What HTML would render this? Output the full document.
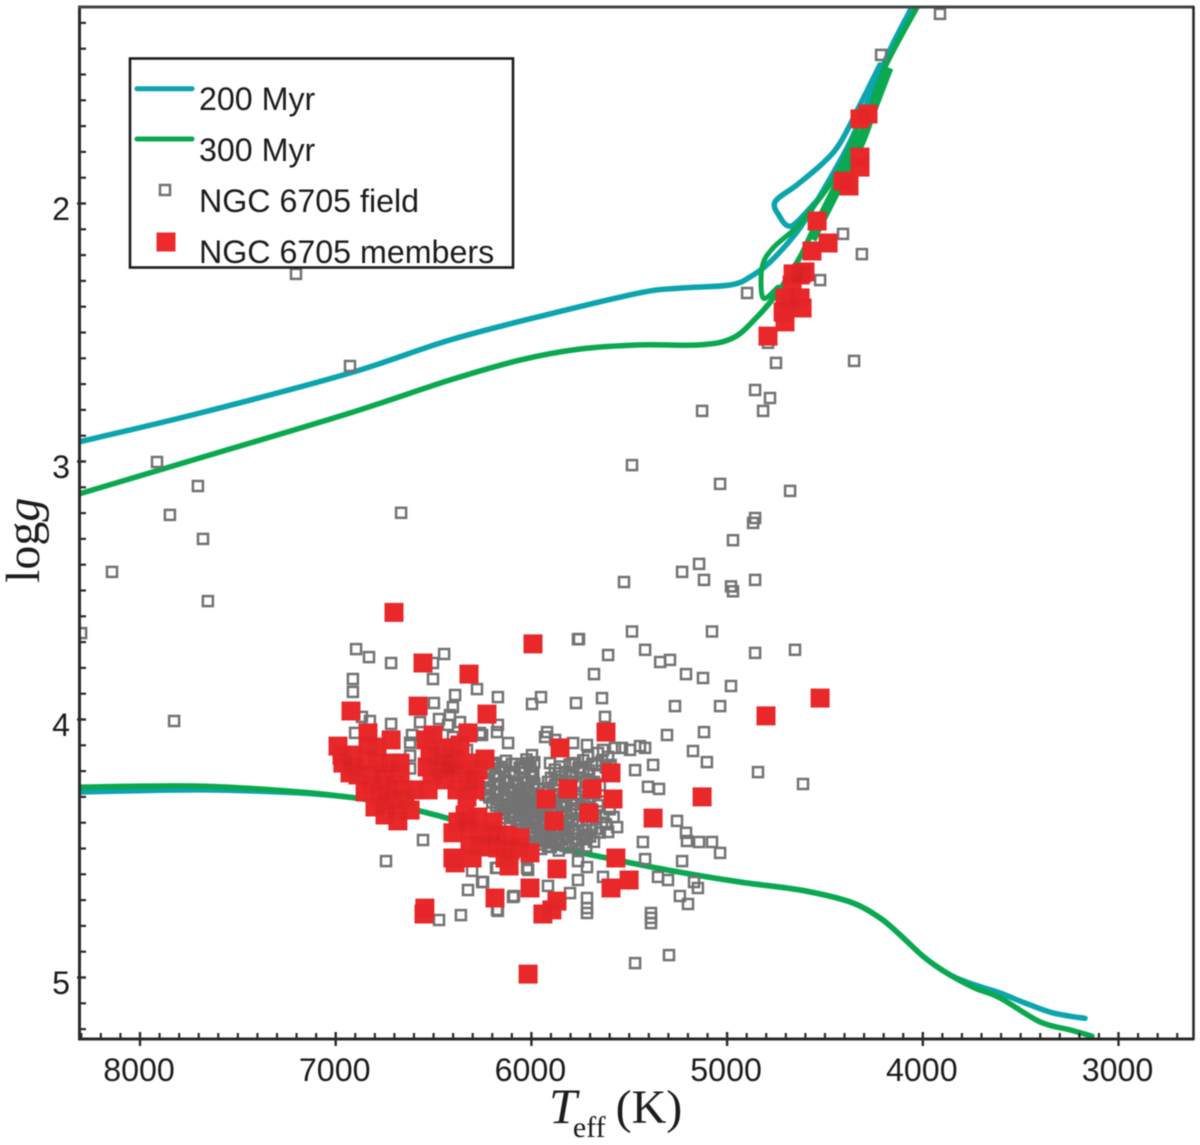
<!DOCTYPE html>
<html lang="en">
<head>
<meta charset="utf-8">
<title>NGC 6705 HR diagram</title>
<style>
html,body{margin:0;padding:0;background:#fff}
svg{display:block;filter:blur(0.4px)}
text{fill:#1c1c1c}
.sans{font-family:"Liberation Sans",sans-serif;font-size:32.2px}
.serif{font-family:"Liberation Serif",serif}
</style>
</head>
<body>
<svg id="chart" xmlns="http://www.w3.org/2000/svg" width="1200" height="1145" viewBox="0 0 1200 1145">
  <defs><clipPath id="plot-clip"><rect x="79" y="7" width="1114" height="1032"/></clipPath></defs>
  <rect x="0" y="0" width="1200" height="1145" fill="#fff"/>
  <g id="series-lines" clip-path="url(#plot-clip)" fill="none" stroke-linecap="round" stroke-linejoin="round"></g>
  <g id="field-marks" clip-path="url(#plot-clip)"></g>
  <g id="member-marks" clip-path="url(#plot-clip)"></g>
  <g id="axes"></g>
  <text class="serif" x="549" y="1123" font-size="50"><tspan font-style="italic">T</tspan><tspan font-size="30" dy="14" dx="-4">eff</tspan><tspan dy="-14" dx="10" font-size="48">(K)</tspan></text>
  <text class="serif" transform="translate(39,583) rotate(-90)" font-size="48">log<tspan font-style="italic">g</tspan></text>
  <g>
    <rect x="130" y="58.5" width="383" height="209" fill="#fff" stroke="#1c1c1c" stroke-width="2.6"/>
    <line x1="137" y1="88.7" x2="192" y2="88.7" stroke="#0ca4ad" stroke-width="5" stroke-linecap="round"/>
    <text class="sans" x="199" y="110">200 Myr</text>
    <line x1="137" y1="139" x2="192" y2="139" stroke="#0aa84f" stroke-width="5" stroke-linecap="round"/>
    <text class="sans" x="199" y="161">300 Myr</text>
    <rect x="160" y="185" width="10" height="10" fill="none" stroke="#737373" stroke-width="2.5"/>
    <text class="sans" x="199" y="212">NGC 6705 field</text>
    <rect x="156.5" y="232.5" width="19" height="19" fill="#ee2a2c"/>
    <text class="sans" x="199" y="263">NGC 6705 members</text>
  </g>
</svg>
<script>
var xTickLabels = [8000, 7000, 6000, 5000, 4000, 3000];
var yTickLabels = [2, 3, 4, 5];

var mainSequence = [[6901,4.304],[6774,4.320],[6569,4.355],[6431,4.382],[6160,4.444],[5889,4.494],[5614,4.537],[5307,4.583],[4934,4.630],[4627,4.661],[4372,4.707],[4219,4.769],[4116,4.835],[3989,4.924],[3861,4.990]];

var teal200Start = [[8312,4.281],[7693,4.273],[7182,4.285]];
var teal200End = [[3733,5.029],[3605,5.060],[3478,5.099],[3350,5.134],[3248,5.150],[3171,5.158]];
var teal200Upper = [[8312,2.924],[7693,2.812],[6927,2.657],[6416,2.529],[5905,2.428],[5445,2.346],[5241,2.328],[4985,2.316],[4883,2.285],[4781,2.227],[4643,2.110],[4551,2.002],[4464,1.890],[4372,1.762],[4270,1.587],[4168,1.405],[4055,1.238]];
var teal200Loop = [[4525,1.975],[4643,2.072],[4689,2.087],[4730,2.052],[4755,1.994],[4643,1.928],[4510,1.843],[4423,1.766],[4321,1.618],[4219,1.463]];

var green300Start = [[8312,4.262],[7693,4.258],[7182,4.281]];
var green300End = [[3733,5.041],[3605,5.079],[3401,5.172],[3248,5.203],[3136,5.227]];
var green300Upper = [[8312,3.126],[7693,2.986],[6927,2.812],[6416,2.684],[6058,2.607],[5751,2.564],[5445,2.548],[5138,2.548],[4970,2.521],[4847,2.440],[4740,2.343],[4627,2.207],[4561,2.103],[4459,1.948],[4372,1.820],[4285,1.669],[4193,1.471],[4029,1.238]];
var green300Loop = [[4740,2.324],[4816,2.366],[4821,2.246],[4765,2.172],[4643,2.091],[4561,2.014],[4459,1.909],[4387,1.804],[4305,1.649]];
var green300Branch = [[4561,2.141],[4459,1.986],[4321,1.781],[4244,1.626],[4168,1.475]];

var fieldStars = [
[3912,1.265],[4213,1.424],[4408,2.118],[4311,2.196],[4525,2.297],[4898,2.347],[7203,2.273],[6927,2.630],[7913,3.002],[7704,3.095],[7847,3.207],[7678,3.300],[8143,3.428],[7653,3.541],[8301,3.665],[7826,4.006],[6666,3.199],
[4791,2.540],[4750,2.618],[4857,2.723],[4781,2.754],[4816,2.804],[5128,2.804],[4351,2.610],[5486,3.014],[5036,3.087],[4678,3.114],[4857,3.219],[4867,3.238],[4970,3.305],[5143,3.397],[5230,3.428],[5118,3.459],[4857,3.459],[5527,3.467],[4980,3.484],[4970,3.503],[5486,3.659],[5077,3.659],[5762,3.689],[5419,3.730],[5608,3.750],[4857,3.742],[4653,3.730],[5342,3.777],[5292,3.769],[5210,3.824],[5123,3.839],[4980,3.870],[4612,4.250],[4842,4.204],
[6171,3.913],[5997,3.940],[5951,3.913],[5772,3.936],[5639,3.917],[5266,3.948],[5036,3.948],[5624,3.990],[5307,4.060],[5118,4.049],[5174,4.122],[5103,4.165],[5470,4.196],[5378,4.176],[5445,4.103],[5404,4.261],[5348,4.269],[5256,4.393],[5210,4.439],[5205,4.471],[5143,4.475],[5077,4.475],[5036,4.517],[5430,4.475],[5419,4.541],[5230,4.549],[5353,4.610],[5302,4.622],[5169,4.630],[5149,4.653],[5241,4.684],[5200,4.715],[5389,4.750],[5389,4.769],[5389,4.789],[5470,4.944],[5297,4.913],[5634,4.610],[5762,4.622],[5762,4.549],[5716,4.572],[5803,4.673],[5716,4.692],[5716,4.731],[5716,4.750],[5915,4.645],[6094,4.688],[6176,4.738],[6247,4.630],[6176,4.575],[6017,4.583],
[6896,3.727],[6830,3.758],[6717,3.781],[6446,3.746],[6503,3.781],[6503,3.843],[6912,3.843],[6912,3.893],[6390,3.905],[6278,3.882],[6498,3.936],[6401,3.952],[5757,3.688],[5680,3.824],[6825,4.006],[6717,4.017],[6569,4.010],[6472,3.998],[6416,3.983],[6365,4.010],[6901,4.052],[6610,4.060],[6426,4.021],[6171,4.021],[6176,4.049],[6119,4.091],[6252,4.060],[6554,4.467],[6743,4.549],[6472,4.777],[6360,4.758],[6324,4.661],[6252,4.630],[6303,4.587],[6171,4.742],[6089,4.684],[6181,4.575],[6022,4.575],
[5920,4.049],[5930,4.068],[5879,4.079],[5787,4.091],[5716,4.099],[5660,4.130],[5537,4.110],[5711,4.145],[5777,4.169],[5997,4.138],[6017,4.169],[5905,4.169],[5634,4.118],[5608,4.145],[5573,4.110],[5496,4.118],[5419,4.110],[5562,4.417],[5608,4.436],[5634,4.378],[5726,4.455],[6263,4.052],[6620,4.090],[6620,4.140],[6620,4.190],[6866,3.990],[6401,4.068],[6329,4.118],
[6190,4.168],[6130,4.160],[6085,4.172],[6025,4.155],[5985,4.166],[5790,4.170],[5735,4.158],[5690,4.172],[5640,4.160],[5595,4.176],
[6215,4.198],[6165,4.190],[6110,4.204],[6060,4.186],[6005,4.200],[5880,4.194],[5825,4.204],[5760,4.188],[5705,4.198],[5610,4.210],
[6240,4.228],[6180,4.220],[6140,4.234],[6090,4.218],[6045,4.230],[6000,4.222],[5900,4.226],[5845,4.236],[5790,4.220],[5720,4.232],
[6210,4.262],[6160,4.252],[6115,4.266],[6070,4.250],[6030,4.264],[5985,4.256],[5940,4.268],[5880,4.254],[5830,4.264],[5775,4.250],[5700,4.266],[5650,4.256],
[6235,4.292],[6185,4.284],[6135,4.298],[6095,4.282],[6050,4.294],[6010,4.286],[5965,4.300],[5920,4.284],[5865,4.296],[5810,4.288],[5745,4.298],[5680,4.286],
[6200,4.322],[6150,4.314],[6110,4.328],[6070,4.316],[6025,4.330],[5985,4.318],[5945,4.326],[5900,4.314],[5850,4.328],[5795,4.316],[5730,4.326],[5650,4.318],
[6160,4.352],[6120,4.344],[6085,4.358],[6040,4.346],[6000,4.356],[5960,4.344],[5915,4.360],[5870,4.348],[5825,4.358],[5770,4.344],[5700,4.356],[5600,4.348],
[6135,4.382],[6095,4.374],[6055,4.388],[6015,4.376],[5975,4.386],[5930,4.374],[5885,4.390],[5840,4.378],[5790,4.388],[5725,4.374],[5670,4.386],[5580,4.378],
[6075,4.412],[6030,4.404],[5990,4.418],[5945,4.406],[5900,4.416],[5855,4.404],[5810,4.418],[5760,4.408],[5690,4.416],[5620,4.406],
[6000,4.442],[5960,4.434],[5915,4.448],[5870,4.436],[5825,4.446],[5780,4.434],[5715,4.446],[5650,4.438],
[5975,4.472],[5935,4.464],[5890,4.478],[5845,4.466],[5790,4.476],[5740,4.464],[5680,4.474],
[5950,4.502],[5900,4.494],[5860,4.508],[5810,4.496],[5760,4.506],
[6200,4.176],[6150,4.184],[6100,4.172],[6045,4.186],[6005,4.178],[5855,4.182],[5805,4.174],[5750,4.186],[5670,4.178],[5620,4.186],
[6230,4.206],[6185,4.214],[6135,4.204],[6085,4.216],[6035,4.206],[5990,4.214],[5860,4.208],[5800,4.216],[5735,4.204],[5660,4.212],
[6220,4.240],[6170,4.248],[6125,4.238],[6080,4.246],[6020,4.240],[5985,4.248],[5915,4.242],[5870,4.250],[5810,4.240],[5745,4.246],[5680,4.242],
[6225,4.272],[6175,4.280],[6140,4.270],[6100,4.278],[6055,4.272],[6015,4.280],[5965,4.270],[5915,4.278],[5860,4.274],[5805,4.268],[5725,4.278],[5675,4.270],
[6215,4.302],[6170,4.310],[6125,4.300],[6080,4.308],[6040,4.302],[5995,4.310],[5950,4.304],[5905,4.308],[5840,4.300],[5770,4.310],[5710,4.302],
[6180,4.334],[6135,4.342],[6095,4.332],[6050,4.340],[6010,4.334],[5970,4.342],[5925,4.332],[5880,4.340],[5835,4.336],[5780,4.330],[5720,4.340],[5660,4.332],
[6145,4.364],[6105,4.372],[6065,4.362],[6020,4.370],[5985,4.364],[5945,4.372],[5895,4.362],[5850,4.370],[5800,4.366],[5745,4.360],[5690,4.370],
[6110,4.396],[6070,4.402],[6030,4.392],[5990,4.400],[5950,4.394],[5905,4.402],[5860,4.392],[5815,4.400],[5770,4.396],[5705,4.390],[5640,4.400],
[6045,4.424],[6010,4.432],[5970,4.422],[5925,4.430],[5880,4.424],[5835,4.432],[5790,4.422],[5735,4.430],[5670,4.424],
[5985,4.454],[5945,4.462],[5905,4.452],[5860,4.460],[5815,4.454],[5765,4.462],[5700,4.454],
[5960,4.484],[5915,4.492],[5870,4.482],[5825,4.490],[5775,4.484],[5720,4.492]
];

var memberStars = [
[6702,3.585],[5992,3.707],[6554,3.781],[6319,3.824],[6579,3.948],[6922,3.967],[6227,3.979],[6988,4.103],[6835,4.052],[6717,4.079],[6968,4.138],[6912,4.138],[6835,4.099],[6789,4.107],[6963,4.169],[6912,4.184],[6927,4.207],[6840,4.157],[6784,4.169],[6722,4.169],[6671,4.169],[6671,4.207],[6758,4.234],[6850,4.281],[6799,4.339],[6748,4.370],[6682,4.393],[6620,4.351],[6707,4.312],[6656,4.273],[6595,4.273],[6528,4.273],[6738,4.273],[6538,4.079],[6503,4.060],[6324,4.052],[6533,4.184],[6482,4.145],[6452,4.110],[6401,4.110],[6416,4.176],[6440,4.170],[6410,4.190],[6314,4.169],[6237,4.153],[6365,4.207],[6324,4.242],[6380,4.273],[6329,4.300],[6375,4.397],[6401,4.439],[6401,4.537],[6390,4.556],[6303,4.537],[6324,4.397],[6273,4.378],[6196,4.397],[6263,4.448],[6263,4.494],[6171,4.448],[6125,4.448],[6171,4.498],[6109,4.506],[6068,4.498],[6007,4.517],[6114,4.568],[5619,4.049],[5854,4.110],[5593,4.207],[5813,4.269],[5690,4.269],[5925,4.308],[5583,4.308],[5378,4.382],[5128,4.300],[5884,4.393],[5706,4.362],[5568,4.537],[5869,4.579],[5501,4.622],[5593,4.653],[6007,4.653],[6186,4.692],[5869,4.704],[5895,4.738],[5941,4.754],[6017,4.987],[4801,3.986],[4525,3.917],[6544,4.731],[6549,4.754],
[6518,4.138],[6508,4.215],[6467,4.196],[6390,4.157],[6441,4.234],[6288,4.234],[6273,4.196],[6886,4.215],[6825,4.215],[6748,4.196],[6814,4.254],[6697,4.254],[6774,4.293],[6646,4.312],[6748,4.331],[6682,4.351],[6314,4.428],[6339,4.370],[6211,4.436],[6314,4.487],[6211,4.487],[6058,4.459],[6135,4.537],[6288,4.273],[6365,4.099],
[4280,1.653],[4321,1.672],[4321,1.820],[4321,1.859],[4408,1.913],[4377,1.932],[4540,2.068],[4484,2.153],[4566,2.184],[4663,2.273],[4602,2.265],[4627,2.277],[4620,2.270],[4668,2.316],[4704,2.366],[4627,2.366],[4617,2.405],[4714,2.421],[4678,2.386],[4704,2.459],[4791,2.514]
];

var SVGNS = 'http://www.w3.org/2000/svg';
function xScale(t) { return 140 + (8000 - t) * 0.1957; }
function yScale(g) { return 203.5 + (g - 2) * 258; }
function make(tag, parent) {
  var el = document.createElementNS(SVGNS, tag);
  parent.appendChild(el);
  return el;
}
function linePath(points) {
  var px = points.map(function (p) { return [xScale(p[0]), yScale(p[1])]; });
  var d = 'M' + px[0][0].toFixed(1) + ' ' + px[0][1].toFixed(1);
  for (var i = 0; i < px.length - 1; i++) {
    var p0 = px[Math.max(i - 1, 0)], p1 = px[i], p2 = px[i + 1], p3 = px[Math.min(i + 2, px.length - 1)];
    var c1x = p1[0] + (p2[0] - p0[0]) / 6, c1y = p1[1] + (p2[1] - p0[1]) / 6;
    var c2x = p2[0] - (p3[0] - p1[0]) / 6, c2y = p2[1] - (p3[1] - p1[1]) / 6;
    d += ' C' + c1x.toFixed(1) + ' ' + c1y.toFixed(1) + ' ' + c2x.toFixed(1) + ' ' + c2y.toFixed(1) + ' ' + p2[0].toFixed(1) + ' ' + p2[1].toFixed(1);
  }
  return d;
}
function drawCurve(points, color, width, cap) {
  var el = make('path', document.getElementById('series-lines'));
  el.setAttribute('d', linePath(points));
  el.setAttribute('stroke', color);
  el.setAttribute('stroke-width', width);
  if (cap) el.setAttribute('stroke-linecap', cap);
  return el;
}
var TEAL = '#0ca4ad', GREEN = '#0aa84f', curve;

curve = drawCurve(teal200Start.concat(mainSequence, teal200End), TEAL, 5.5);


curve = drawCurve(teal200Upper, TEAL, 5.5);


curve = drawCurve(teal200Loop, TEAL, 5.5);


curve = drawCurve(green300Start.concat(mainSequence, green300End), GREEN, 5.5);


curve = drawCurve(green300Upper, GREEN, 5.5);


curve = drawCurve(green300Loop, GREEN, 5);


curve = drawCurve(green300Branch, GREEN, 7, 'butt');



var fieldGroup = document.getElementById('field-marks');
fieldStars.forEach(function (s) {
  var r = make('rect', fieldGroup);
  
  
  r.setAttribute('x', (xScale(s[0]) - 5).toFixed(1));
  r.setAttribute('y', (yScale(s[1]) - 5).toFixed(1));
  r.setAttribute('width', 10);
  r.setAttribute('height', 10);
  r.setAttribute('fill', 'none');
  r.setAttribute('stroke', '#737373');
  r.setAttribute('stroke-width', 2.5);
});

var memberGroup = document.getElementById('member-marks');
memberStars.forEach(function (s) {
  var r = make('rect', memberGroup);
  
  
  r.setAttribute('x', (xScale(s[0]) - 9.5).toFixed(1));
  r.setAttribute('y', (yScale(s[1]) - 9.5).toFixed(1));
  r.setAttribute('width', 19);
  r.setAttribute('height', 19);
  r.setAttribute('fill', '#ee2a2c');
});
memberStars.forEach(function (s) {
  var r = make('rect', memberGroup);
  
  
  r.setAttribute('x', (xScale(s[0]) - 9.5).toFixed(1));
  r.setAttribute('y', (yScale(s[1]) - 9.5).toFixed(1));
  r.setAttribute('width', 19);
  r.setAttribute('height', 19);
  r.setAttribute('fill', '#5a0000');
  r.setAttribute('opacity', 0.03);
});

var axes = document.getElementById('axes');
function seg(x1, y1, x2, y2, w, color) {
  var l = make('line', axes);
  l.setAttribute('x1', x1);
  l.setAttribute('y1', y1);
  l.setAttribute('x2', x2);
  l.setAttribute('y2', y2);
  l.setAttribute('stroke', color || '#2a2a2a');
  l.setAttribute('stroke-width', w);
  return l;
}
var spine;
spine = seg(79.5, 6, 79.5, 1040, 3);


spine = seg(78, 1039, 1194, 1039, 3);


spine = seg(78, 7, 1194, 7, 3, '#444');


spine = seg(1193.5, 6, 1193.5, 1040, 2.6, '#2a2a2a');



var tick, t, k;
for (k = 0; k * 100 <= 5600; k++) {
  t = 8300 - k * 100;
  if (t % 1000 === 0) continue;
  tick = seg(xScale(t), 1033, xScale(t), 1039, 2.2);
  
  
}
for (k = 13; k <= 52; k++) {
  if (k % 10 === 0) continue;
  tick = seg(79, yScale(k / 10), 86, yScale(k / 10), 2.2);
  
  
}
xTickLabels.forEach(function (v) {
  var m = seg(xScale(v), 1032, xScale(v), 1046, 2.4);
  
  
  var txt = make('text', axes);
  
  
  txt.setAttribute('class', 'sans');
  txt.setAttribute('x', xScale(v) - 1);
  txt.setAttribute('y', 1081);
  txt.setAttribute('text-anchor', 'middle');
  txt.textContent = v;
});
yTickLabels.forEach(function (v) {
  var m = seg(77, yScale(v), 86, yScale(v), 2.4);
  
  
  var txt = make('text', axes);
  
  
  txt.setAttribute('class', 'sans');
  txt.setAttribute('x', 70);
  txt.setAttribute('y', yScale(v) + 16.5);
  txt.setAttribute('text-anchor', 'end');
  txt.textContent = v;
});
</script>
</body>
</html>
